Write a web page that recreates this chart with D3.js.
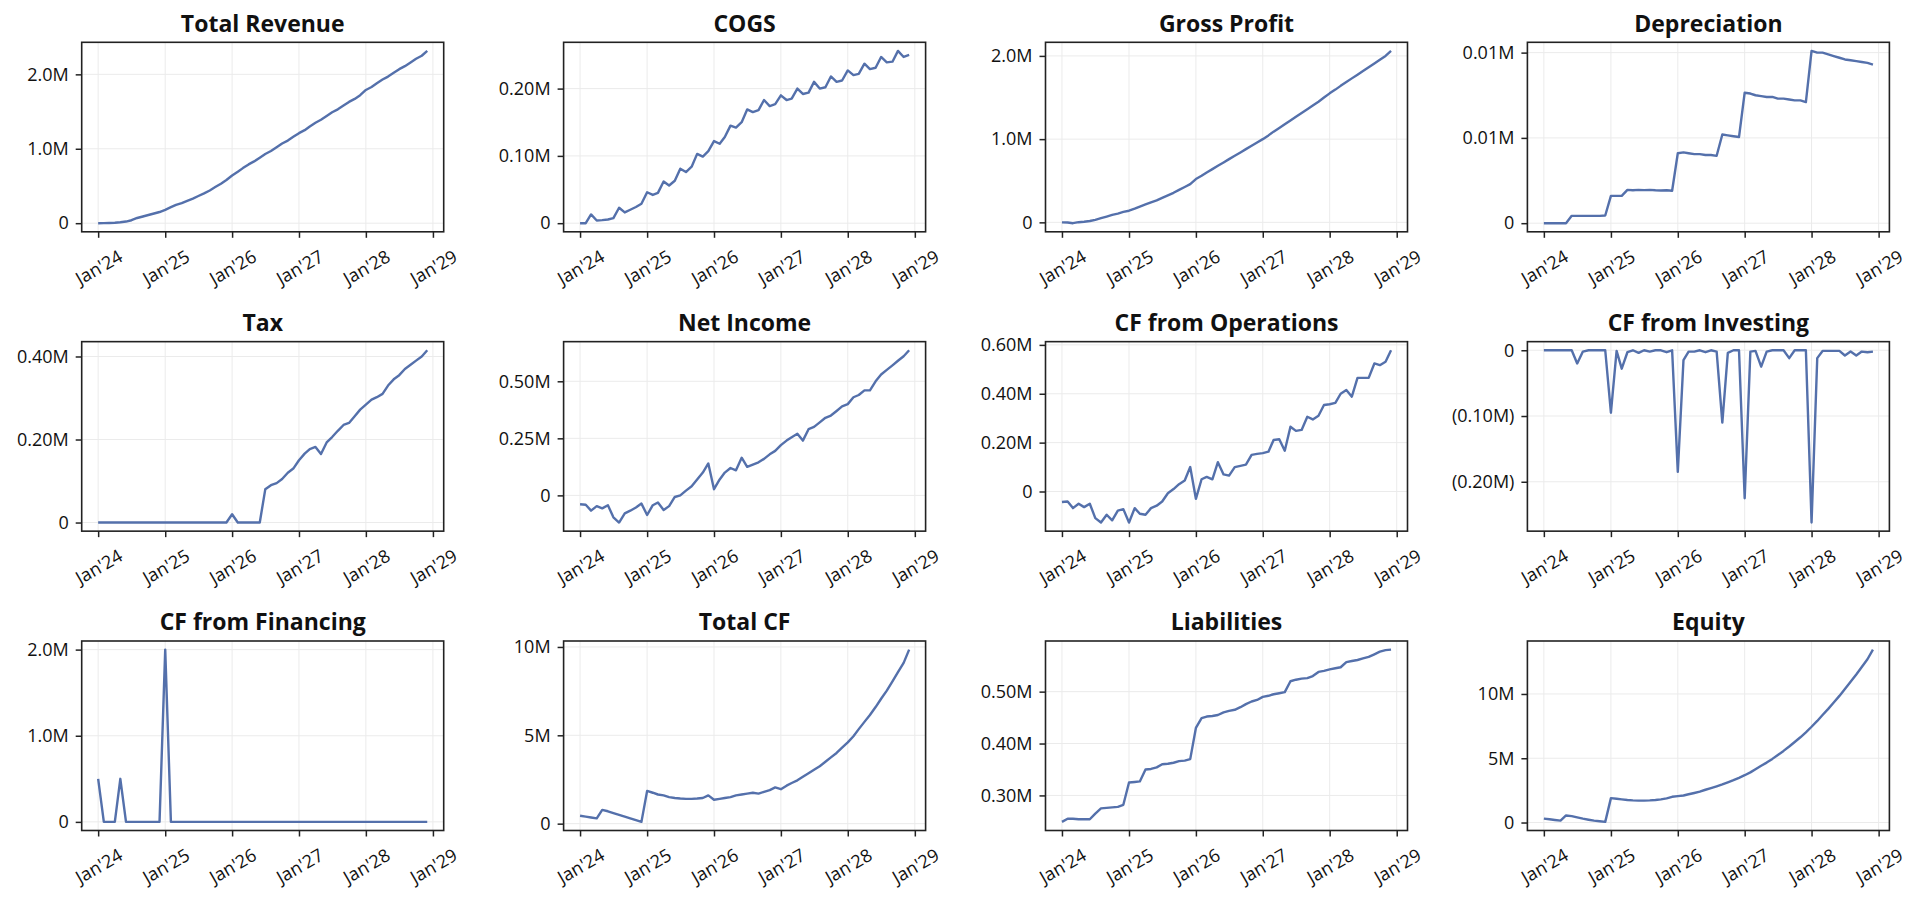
<!DOCTYPE html>
<html>
<head>
<meta charset="utf-8">
<style>
body { margin: 0; background: #ffffff; }
svg { display: block; }
text { font-family: "Open Sans", "Noto Sans", sans-serif; fill: #111; }
.title { font-weight: bold; font-size: 23px; }
.tick text { font-size: 18px; fill: #111; }
.tick line { stroke: #222; stroke-width: 1.5; }
.grid line { stroke: #ebebeb; stroke-width: 1; }
.frame { fill: none; stroke: #222; stroke-width: 1.6; }
.series { fill: none; stroke: #5470ab; stroke-width: 2.4; stroke-linejoin: round; }
</style>
</head>
<body>
<svg id="chart" width="1920" height="902"></svg>
<script src="https://cdn.jsdelivr.net/npm/d3@7"></script>
<script>
// all values in thousands, one point per month Jan'24 .. Dec'28
var titles = ["Total Revenue", "COGS", "Gross Profit", "Depreciation",
              "Tax", "Net Income", "CF from Operations", "CF from Investing",
              "CF from Financing", "Total CF", "Liabilities", "Equity"];

var revenue = [0, 1, 3, 6, 12, 22, 40, 70, 90, 110, 130, 150,
  180, 215, 245, 270, 300, 330, 365, 400, 440, 485, 530, 580,
  640, 690, 740, 790, 830, 880, 930, 970, 1020, 1070, 1110, 1160,
  1210, 1250, 1300, 1350, 1390, 1440, 1490, 1530, 1580, 1630, 1670, 1720,
  1790, 1830, 1880, 1930, 1970, 2020, 2070, 2110, 2160, 2210, 2250, 2315];

var cogs = [0, 0, 13, 4, 4.5, 5.5, 7.5, 23, 16, 20, 24, 29,
  46, 42, 45, 62, 56, 63, 81, 76, 84, 103, 99, 107,
  122, 118, 128, 145, 142, 150, 169, 165, 168, 183, 174, 177,
  190, 183, 185, 200, 192, 194, 210, 200, 202, 218, 210, 212,
  227, 220, 222, 237, 229, 231, 247, 239, 240, 256, 247, 250];

var grossProfit = [0, -2, -10, 2, 8, 16, 30, 50, 70, 90, 105, 125,
  140, 165, 190, 215, 240, 265, 295, 325, 355, 390, 425, 460,
  520, 560, 600, 640, 680, 720, 760, 800, 840, 880, 920, 960,
  1000, 1045, 1090, 1135, 1180, 1225, 1270, 1315, 1360, 1405, 1450, 1500,
  1550, 1595, 1640, 1685, 1730, 1775, 1820, 1865, 1910, 1955, 2000, 2060];

var depreciation = [0, 0, 0, 0, 0, 0.43, 0.43, 0.43, 0.43, 0.43, 0.43, 0.45,
  1.6, 1.6, 1.6, 1.95, 1.93, 1.95, 1.94, 1.95, 1.93, 1.92, 1.93, 1.9,
  4.1, 4.15, 4.1, 4.05, 4.05, 4.0, 4.0, 3.95, 5.2, 5.15, 5.1, 5.05,
  7.65, 7.6, 7.5, 7.45, 7.4, 7.4, 7.3, 7.3, 7.25, 7.2, 7.2, 7.1,
  10.1, 10.0, 10.0, 9.9, 9.8, 9.7, 9.6, 9.55, 9.5, 9.45, 9.4, 9.3];

var tax = [0, 0, 0, 0, 0, 0, 0, 0, 0, 0, 0, 0,
  0, 0, 0, 0, 0, 0, 0, 0, 0, 0, 0, 0,
  20, 0, 0, 0, 0, 0, 80, 90, 95, 105, 120, 130,
  150, 166, 177, 182, 165, 193, 206, 221, 235, 240, 256, 272,
  284, 296, 302, 310, 330, 345, 355, 370, 380, 390, 400, 415];

var netIncome = [-39, -41, -67, -47, -57, -43, -96, -119, -79, -67, -53, -36,
  -86, -43, -31, -64, -47, -7, 0, 21, 40, 70, 100, 140,
  27, 70, 100, 120, 110, 165, 125, 135, 145, 160, 180, 195,
  220, 240, 255, 270, 240, 290, 300, 320, 340, 350, 370, 390,
  400, 430, 440, 460, 460, 500, 530, 550, 570, 590, 610, 636];

var cfOperations = [-43, -41, -68, -50, -64, -50, -109, -127, -95, -118, -78, -72,
  -127, -68, -91, -95, -68, -58, -41, -7, 10, 30, 45, 100,
  -30, 50, 60, 50, 120, 70, 65, 100, 105, 110, 150, 154,
  157, 163, 211, 214, 167, 265, 248, 252, 306, 295, 310, 354,
  357, 363, 400, 415, 388, 465, 465, 465, 524, 517, 531, 578];

var cfInvesting = [0, 0, 0, 0, 0, 0, -20, -2, 0, 0, 0, 0,
  -95, -1, -28, -3, 0, -4, 0, -2, 0, 0, -3, 0,
  -185, -15, -2, -2, 0, -3, 0, -2, -110, -4, 0, 0,
  -225, -2, -1, -25, -2, 0, 0, 0, -12, 0, 0, 0,
  -262, -12, -1, -1, -1, -1, -8, -2, -8, -2, -3, -2];

var cfFinancing = [500, 0, 0, 0, 500, 0, 0, 0, 0, 0, 0, 0,
  2000, 0, 0, 0, 0, 0, 0, 0, 0, 0, 0, 0,
  0, 0, 0, 0, 0, 0, 0, 0, 0, 0, 0, 0,
  0, 0, 0, 0, 0, 0, 0, 0, 0, 0, 0, 0,
  0, 0, 0, 0, 0, 0, 0, 0, 0, 0, 0, 0];

var totalCf = [450, 400, 350, 300, 780, 700, 600, 500, 400, 300, 200, 100,
  1850, 1750, 1650, 1600, 1500, 1450, 1420, 1400, 1400, 1420, 1450, 1600,
  1350, 1400, 1450, 1500, 1600, 1650, 1700, 1750, 1700, 1800, 1900, 2050,
  1950, 2150, 2300, 2450, 2650, 2850, 3050, 3250, 3500, 3750, 4000, 4300,
  4600, 4950, 5350, 5760, 6150, 6600, 7070, 7530, 8050, 8570, 9100, 9850];

var liabilities = [249, 255, 255, 254, 254, 254, 265, 275, 276, 277, 278, 282,
  325, 326, 327, 350, 351, 354, 360, 361, 363, 366, 367, 370,
  430, 449, 452, 453, 455, 460, 463, 465, 470, 476, 481, 484,
  490, 492, 495, 497, 499, 520, 523, 525, 526, 530, 538, 540,
  543, 545, 547, 557, 559, 561, 564, 567, 572, 577, 580, 581];

var equity = [300, 250, 200, 150, 550, 500, 400, 300, 220, 150, 100, 50,
  1900, 1850, 1800, 1750, 1720, 1700, 1700, 1720, 1750, 1800, 1880, 2000,
  2050, 2100, 2200, 2300, 2400, 2550, 2680, 2820, 2970, 3130, 3300, 3480,
  3680, 3900, 4150, 4420, 4660, 4950, 5250, 5570, 5910, 6260, 6630, 7020,
  7450, 7900, 8360, 8840, 9330, 9850, 10390, 10950, 11520, 12100, 12700, 13450];

var yTicks = [[0, 1000, 2000], [0, 100, 200], [0, 1000, 2000], [0, 5, 10],
  [0, 200, 400], [0, 250, 500], [0, 200, 400, 600], [0, -100, -200],
  [0, 1000, 2000], [0, 5000, 10000], [300, 400, 500], [0, 5000, 10000]];

var yTickLabels = [["0", "1.0M", "2.0M"], ["0", "0.10M", "0.20M"], ["0", "1.0M", "2.0M"], ["0", "0.01M", "0.01M"],
  ["0", "0.20M", "0.40M"], ["0", "0.25M", "0.50M"], ["0", "0.20M", "0.40M", "0.60M"], ["0", "(0.10M)", "(0.20M)"],
  ["0", "1.0M", "2.0M"], ["0", "5M", "10M"], ["0.30M", "0.40M", "0.50M"], ["0", "5M", "10M"]];

var xTickLabels = ["Jan'24", "Jan'25", "Jan'26", "Jan'27", "Jan'28", "Jan'29"];

var seriesList = [revenue, cogs, grossProfit, depreciation, tax, netIncome,
  cfOperations, cfInvesting, cfFinancing, totalCf, liabilities, equity];

var start = new Date(2024, 0, 1);
var months = seriesList[0].map(function(d, i) { return d3.timeMonth.offset(start, i); });
var yearTicks = xTickLabels.map(function(d, i) { return d3.timeMonth.offset(start, 12 * i); });

var svg = d3.select("#chart");
var panelW = 362, panelH = 189.5;
var left0 = 81.7, colStep = 481.9, top0 = 42.3, rowStep = 299.35;

function padded(lo, hi) {
  var r = hi - lo;
  return [lo - 0.05 * r, hi + 0.05 * r];
}

seriesList.forEach(function(values, k) {
  var col = k % 4, row = Math.floor(k / 4);
  var g = svg.append("g")
    .attr("transform", "translate(" + (left0 + col * colStep) + "," + (top0 + row * rowStep) + ")");

  var t0 = months[0].getTime(), t1 = months[months.length - 1].getTime();
  var dt = (t1 - t0) * 0.05;
  var x = d3.scaleTime().domain([new Date(t0 - dt), new Date(t1 + dt)]).range([0, panelW]);
  var ext = d3.extent(values);
  var y = d3.scaleLinear().domain(padded(ext[0], ext[1])).range([panelH, 0]);

  var grid = g.append("g").attr("class", "grid");
  grid.selectAll("line.gx").data(yearTicks).enter().append("line")
    .attr("x1", function(d) { return x(d); }).attr("x2", function(d) { return x(d); })
    .attr("y1", 0).attr("y2", panelH);
  grid.selectAll("line.gy").data(yTicks[k]).enter().append("line")
    .attr("y1", function(d) { return y(d); }).attr("y2", function(d) { return y(d); })
    .attr("x1", 0).attr("x2", panelW);

  var line = d3.line()
    .x(function(d, i) { return x(months[i]); })
    .y(function(d) { return y(d); });
  g.append("path").datum(values).attr("class", "series").attr("d", line);

  g.append("rect").attr("class", "frame").attr("width", panelW).attr("height", panelH);

  var yAxis = g.append("g")
    .call(d3.axisLeft(y).tickValues(yTicks[k])
      .tickFormat(function(d, i) { return yTickLabels[k][i]; })
      .tickSize(6).tickPadding(7));
  yAxis.select(".domain").remove();

  var xAxis = g.append("g").attr("transform", "translate(0," + panelH + ")")
    .call(d3.axisBottom(x).tickValues(yearTicks)
      .tickFormat(function(d, i) { return xTickLabels[i]; })
      .tickSize(6));
  xAxis.select(".domain").remove();
  xAxis.selectAll("text")
    .attr("y", null).attr("dy", null)
    .attr("text-anchor", "middle")
    .attr("dominant-baseline", "central")
    .attr("transform", "translate(0,35) rotate(-30)");

  g.append("text").attr("class", "title")
    .attr("x", panelW / 2).attr("y", -10.6)
    .attr("text-anchor", "middle")
    .text(titles[k]);
});
</script>
</body>
</html>
